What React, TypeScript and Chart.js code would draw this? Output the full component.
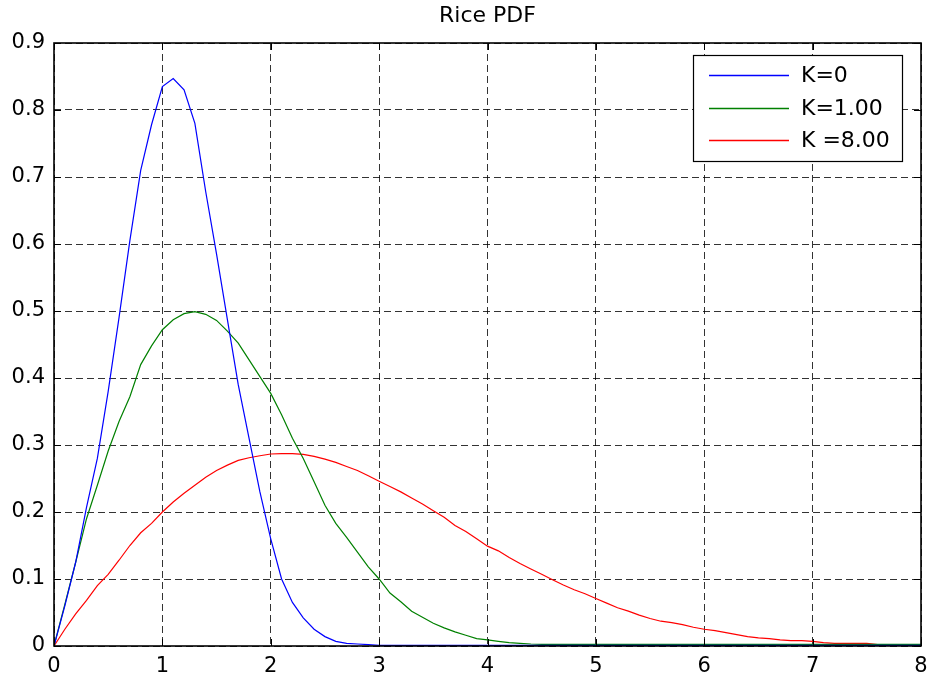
import { useEffect, useRef } from "react";
import { Chart, registerables } from "chart.js";

Chart.register(...registerables);

// Sample positions along the envelope axis
const xValues = [
  0, 0.1, 0.2, 0.3, 0.4, 0.5, 0.6, 0.7, 0.8, 0.9,
  1, 1.1, 1.2, 1.3, 1.4, 1.5, 1.6, 1.7, 1.8, 1.9,
  2, 2.1, 2.2, 2.3, 2.4, 2.5, 2.6, 2.7, 2.8, 2.9,
  3, 3.1, 3.2, 3.3, 3.4, 3.5, 3.6, 3.7, 3.8, 3.9,
  4, 4.1, 4.2, 4.3, 4.4, 4.5, 4.6, 4.7, 4.8, 4.9,
  5, 5.1, 5.2, 5.3, 5.4, 5.5, 5.6, 5.7, 5.8, 5.9,
  6, 6.1, 6.2, 6.3, 6.4, 6.5, 6.6, 6.7, 6.8, 6.9,
  7, 7.1, 7.2, 7.3, 7.4, 7.5, 7.6, 7.7, 7.8, 7.9,
  8,
];

// Density for K = 0
const pdfK0 = [
  0, 0.06, 0.125, 0.207, 0.28, 0.38, 0.49, 0.605, 0.71, 0.778,
  0.835, 0.847, 0.83, 0.78, 0.678, 0.585, 0.487, 0.39, 0.31, 0.23,
  0.16, 0.1, 0.065, 0.042, 0.025, 0.014, 0.007, 0.004, 0.003, 0.002,
  0.001, 0.001, 0.001, 0.001, 0.001, 0.001, 0.001, 0.001, 0.001, 0.001,
  0.001, 0.001, 0.001, 0.001, 0.001, 0.001, 0.001, 0.001, 0.001, 0.001,
  0.001, 0.001, 0.001, 0.001, 0.001, 0.001, 0.001, 0.001, 0.001, 0.001,
  0.001, 0.001, 0.001, 0.001, 0.001, 0.001, 0.001, 0.001, 0.001, 0.001,
  0.001, 0.001, 0.001, 0.001, 0.001, 0.001, 0.001, 0.001, 0.001, 0.001,
  0.001,
];

// Density for K = 1
const pdfK1 = [
  0, 0.062, 0.125, 0.19, 0.24, 0.291, 0.335, 0.372, 0.42, 0.448,
  0.472, 0.487, 0.496, 0.499, 0.495, 0.486, 0.47, 0.452, 0.427, 0.402,
  0.377, 0.345, 0.31, 0.28, 0.245, 0.21, 0.183, 0.162, 0.14, 0.118,
  0.1, 0.079, 0.066, 0.052, 0.043, 0.034, 0.027, 0.021, 0.016, 0.011,
  0.009, 0.007, 0.005, 0.004, 0.003, 0.0025, 0.0025, 0.0025, 0.0025, 0.0025,
  0.0025, 0.0025, 0.0025, 0.0025, 0.0025, 0.0025, 0.0025, 0.0025, 0.0025, 0.0025,
  0.0025, 0.0025, 0.0025, 0.0025, 0.0025, 0.0025, 0.0025, 0.0025, 0.0025, 0.0025,
  0.0025, 0.0025, 0.0025, 0.0025, 0.0025, 0.0025, 0.0025, 0.0025, 0.0025, 0.0025,
  0.0025,
];

// Density for K = 8
const pdfK8 = [
  0, 0.025, 0.048, 0.068, 0.09, 0.107, 0.128, 0.15, 0.169, 0.183,
  0.2, 0.215, 0.228, 0.24, 0.252, 0.262, 0.27, 0.277, 0.281, 0.284,
  0.2866, 0.287, 0.287, 0.286, 0.283, 0.279, 0.274, 0.268, 0.262, 0.254,
  0.246, 0.238, 0.23, 0.221, 0.212, 0.202, 0.192, 0.18, 0.171, 0.16,
  0.149, 0.142, 0.132, 0.123, 0.115, 0.107, 0.099, 0.091, 0.084, 0.078,
  0.071, 0.064, 0.057, 0.052, 0.046, 0.041, 0.037, 0.035, 0.032, 0.028,
  0.025, 0.023, 0.02, 0.017, 0.014, 0.012, 0.011, 0.009, 0.008, 0.008,
  0.007, 0.005, 0.004, 0.004, 0.004, 0.004, 0.002, 0.0015, 0.0015, 0.0015,
  0.0015,
];

const seriesLabels = ["K=0", "K=1.00", "K =8.00"];
const seriesColors = ["#0000ff", "#008000", "#ff0000"];
const seriesValues = [pdfK0, pdfK1, pdfK8];

const xRange = [0, 8];
const yRange = [0, 0.9];
const xStep = 1;
const yStep = 0.1;

const FONT = "'DejaVu Sans', 'Liberation Sans', sans-serif";

// Solid frame around the plot area with short inward tick marks on every side
const framePlugin = {
  id: "frame",
  afterDatasetsDraw(chart: any) {
    const { ctx, chartArea: a, scales } = chart;
    const xs = scales.x;
    const ys = scales.y;
    const len = 7;
    ctx.save();
    ctx.strokeStyle = "#000";
    ctx.lineWidth = 1;
    ctx.beginPath();
    xs.ticks.forEach((t: any) => {
      const px = Math.round(xs.getPixelForValue(t.value)) + 0.5;
      ctx.moveTo(px, a.bottom);
      ctx.lineTo(px, a.bottom - len);
      ctx.moveTo(px, a.top);
      ctx.lineTo(px, a.top + len);
    });
    ys.ticks.forEach((t: any) => {
      const py = Math.round(ys.getPixelForValue(t.value)) + 0.5;
      ctx.moveTo(a.left, py);
      ctx.lineTo(a.left + len, py);
      ctx.moveTo(a.right, py);
      ctx.lineTo(a.right - len, py);
    });
    ctx.stroke();
    ctx.lineWidth = 1.6;
    ctx.strokeRect(a.left, a.top, a.right - a.left, a.bottom - a.top);
    ctx.restore();
  },
};

// Boxed legend in the upper-right corner of the plot area
const boxLegendPlugin = {
  id: "boxLegend",
  afterDraw(chart: any) {
    const { ctx, chartArea: a } = chart;
    const w = 209;
    const h = 106;
    const x0 = a.right - 19 - w;
    const y0 = a.top + 12;
    ctx.save();
    ctx.fillStyle = "#fff";
    ctx.fillRect(x0, y0, w, h);
    ctx.strokeStyle = "#000";
    ctx.lineWidth = 1.2;
    ctx.strokeRect(x0 + 0.5, y0 + 0.5, w, h);
    ctx.font = `22px ${FONT}`;
    ctx.textBaseline = "middle";
    ctx.textAlign = "left";
    chart.data.datasets.forEach((ds: any, i: number) => {
      const cy = Math.round(y0 + 20 + i * 32.5) + 0.5;
      ctx.strokeStyle = ds.borderColor;
      ctx.lineWidth = 1.5;
      ctx.beginPath();
      ctx.moveTo(x0 + 16, cy);
      ctx.lineTo(x0 + 96, cy);
      ctx.stroke();
      ctx.fillStyle = "#000";
      ctx.fillText(ds.label, x0 + 108, cy + 1);
    });
    ctx.restore();
  },
};

export default function App() {
  const canvasRef = useRef<HTMLCanvasElement | null>(null);

  useEffect(() => {
    const canvas = canvasRef.current;
    if (!canvas) return;

    const datasets = seriesValues.map((vals, i) => ({
      label: seriesLabels[i],
      data: xValues.map((x, j) => ({ x, y: vals[j] })),
      borderColor: seriesColors[i],
      backgroundColor: seriesColors[i],
      borderWidth: 1.2,
      pointRadius: 0,
      tension: 0,
      fill: false,
    }));

    const chart = new Chart(canvas, {
      type: "line",
      data: { datasets },
      options: {
        animation: false,
        responsive: false,
        maintainAspectRatio: false,
        layout: { padding: { left: 0, right: 8, top: 0, bottom: 0 } },
        plugins: {
          legend: { display: false },
          tooltip: { enabled: false },
          title: {
            display: true,
            fullSize: false,
            text: "Rice PDF",
            color: "#000",
            font: { family: FONT, size: 22, weight: "normal" },
            padding: { top: 3, bottom: 13.6 },
          },
        },
        scales: {
          x: {
            type: "linear",
            min: xRange[0],
            max: xRange[1],
            ticks: {
              stepSize: xStep,
              color: "#000",
              font: { family: FONT, size: 21 },
              padding: 8,
              maxRotation: 0,
            },
            grid: {
              color: "rgba(0,0,0,0.8)",
              lineWidth: 1,
              drawTicks: false,
            },
            border: { display: false, dash: [7, 4] },
            afterFit: (scale: any) => {
              scale.height = 31;
              scale.paddingLeft = 0;
              scale.paddingRight = 0;
            },
          },
          y: {
            type: "linear",
            min: yRange[0],
            max: yRange[1],
            ticks: {
              stepSize: yStep,
              color: "#000",
              font: { family: FONT, size: 21 },
              padding: 9,
              callback: (v: any) => String(Number(Number(v).toFixed(1))),
            },
            grid: {
              color: "rgba(0,0,0,0.8)",
              lineWidth: 1,
              drawTicks: false,
            },
            border: { display: false, dash: [7, 4] },
            afterFit: (scale: any) => {
              scale.width = 54;
              scale.paddingTop = 0;
              scale.paddingBottom = 0;
            },
          },
        },
      },
      plugins: [framePlugin, boxLegendPlugin],
    });

    return () => {
      chart.destroy();
    };
  }, []);

  return (
    <div style={{ position: "absolute", left: 0, top: 0, width: 929, height: 677, background: "#fff" }}>
      <canvas ref={canvasRef} width={929} height={677} />
    </div>
  );
}
